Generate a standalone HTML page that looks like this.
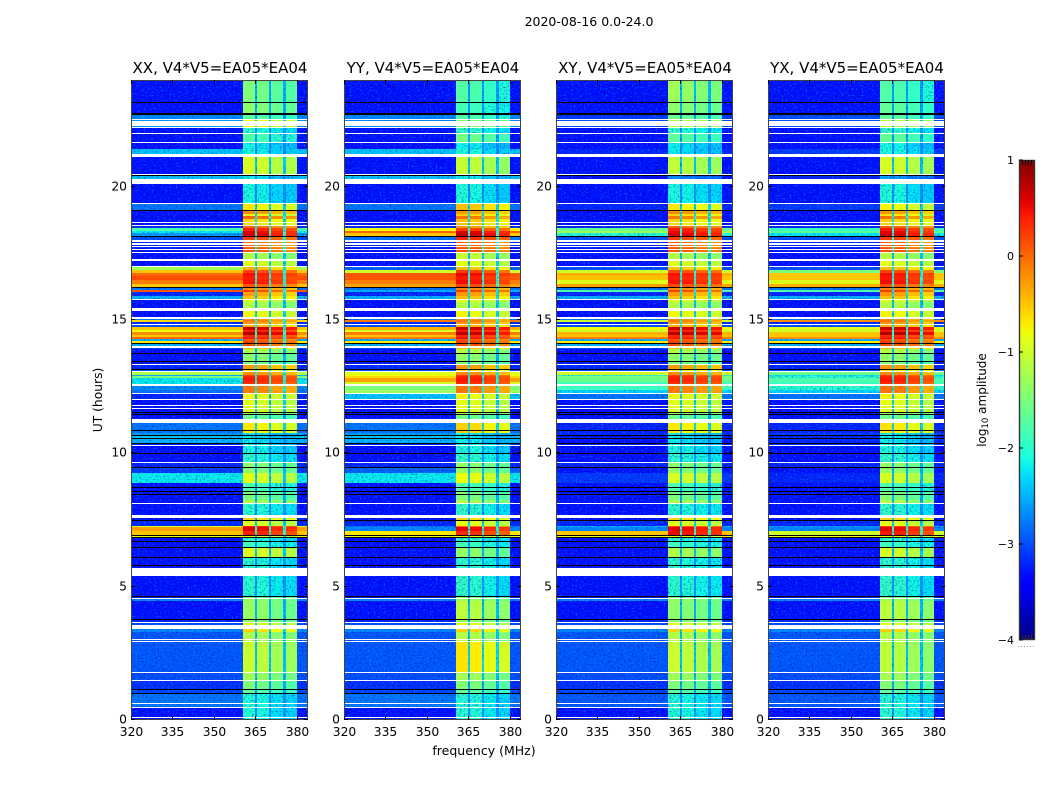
<!DOCTYPE html>
<html>
<head>
<meta charset="utf-8">
<title>2020-08-16 0.0-24.0</title>
<style>
html,body{margin:0;padding:0;background:#fff;}
svg{display:block;}
text{font-family:"DejaVu Sans","Liberation Sans",sans-serif;fill:#000;}
</style>
</head>
<body>
<svg id="figure" xmlns="http://www.w3.org/2000/svg" width="1050" height="800" viewBox="0 0 1050 800">
<defs>
<filter id="grain-dark" color-interpolation-filters="sRGB" x="0" y="0" width="100%" height="100%"><feTurbulence type="fractalNoise" baseFrequency="0.5 0.62" numOctaves="1" seed="3"/><feColorMatrix type="matrix" values="0 0 0 0 0  0 0 0 0 0  0 0 0 0 0.5  4 0 0 0 -2.1"/></filter>
<filter id="grain-light" color-interpolation-filters="sRGB" x="0" y="0" width="100%" height="100%"><feTurbulence type="fractalNoise" baseFrequency="0.5 0.62" numOctaves="1" seed="11"/><feColorMatrix type="matrix" values="0 0 0 0 0  0 0 0 0 0.6  0 0 0 0 1  4 0 0 0 -2.2"/></filter>
<linearGradient id="jet-gradient" x1="0" y1="1" x2="0" y2="0"></linearGradient>
</defs>
<text x="589" y="26" text-anchor="middle" font-size="12.5">2020-08-16 0.0-24.0</text>
<text x="484" y="755" text-anchor="middle" font-size="12.5">frequency (MHz)</text>
<text transform="translate(102,400) rotate(-90)" text-anchor="middle" font-size="12.3">UT (hours)</text>
<text transform="translate(986,400) rotate(-90)" text-anchor="middle" font-size="12">log<tspan font-size="8.5" dy="2">10</tspan><tspan dy="-2"> amplitude</tspan></text>
<g id="panels"></g>
<g id="colorbar"></g>
</svg>
<script>
// --- chart data -----------------------------------------------------------
const panelNames = ["XX", "YY", "XY", "YX"];
const baselineLabel = "V4*V5=EA05*EA04";
const freqTicks = [320, 335, 350, 365, 380];
const hourTicks = [0, 5, 10, 15, 20];
const colorbarTicks = [1, 0, -1, -2, -3, -4];
const freqLimits = [320, 384.1];
const hourLimits = [0, 24];
const levelLimits = [-4, 1];
const subbandsMHz = [[360.7, 364.9], [365.8, 370.1], [370.8, 375.2], [376, 380]];

// UT hour at the top edge of each block of integrations
const rowTopHours = [24,23.14,22.69,22.51,22.2,21.98,21.64,21.4,21.11,20.39,
20.1,19.35,19.09,18.98,18.9,18.79,18.53,18.44,18.33,18.25,
18.12,17.93,17.7,17.51,17.21,16.99,16.88,16.75,16.65,16.5,
16.34,16.2,16.14,16.04,15.91,15.75,15.66,15.34,15.05,15.01,
14.94,14.84,14.75,14.63,14.56,14.44,14.37,14.29,14.21,14.09,
13.96,13.91,13.74,13.43,13.3,13.13,13.04,12.95,12.9,12.81,
12.69,12.53,12.38,12.21,11.99,11.66,11.52,11.45,11.13,10.75,
10.68,10.55,10.38,10.29,9.98,9.64,9.45,9.26,8.9,8.55,
8.25,8.1,7.56,7.47,7.28,7.23,7.1,6.91,6.85,6.68,
6.45,6.08,5.4,4.61,4.54,4.45,3.75,3.63,3.4,3.3,
2.91,1.75,1.46,1.13,0.98,0.46];

// log10 amplitude outside the 360-380 MHz band
const xxBackground = [-3.3,-3.3,-2.7,-2.6,-3.3,-3.3,-3.3,-2.4,-3.3,-2.4,
-3.3,-2.8,-3.3,-3.3,-3.3,-3.3,-3.2,-1.8,-2.2,-2.6,
-3,-3.2,-3.3,-3.3,-3.3,-1.3,-.5,0,.15,-.1,
-.5,-2.8,.1,-3.2,-2.5,-3.3,-3.3,-3.3,-2.8,-.6,
-3.2,-3,-.5,-.8,-.2,-.5,0,-2.5,-.7,-2.5,
-3,-3.3,-3.3,-3.3,-3.2,-3,-1.2,-2.5,-1.5,-2.2,
-2.2,-2.7,-2.8,-3.2,-3.3,-3.3,-3.3,-3.3,-2.8,-2.6,
-2.4,-2.5,-3.2,-3.3,-3.3,-3.2,-3.1,-2.2,-3.3,-3.3,
-3.3,-3.3,-3.3,-3.2,-1,-.3,-.5,-.9,-3.3,-3.3,
-3.3,-3.3,-3.3,-3.3,-2.7,-3.3,-3.2,-3,-2.7,-2.95,
-2.95,-3,-3.15,-3.05,-2.8,-3.3];
const yyBackground = [-3.3,-3.3,-2.7,-2.7,-3.3,-3.3,-3.3,-2.4,-3.3,-2.4,
-3.3,-2.8,-3.3,-3.3,-3.3,-3.3,-3.2,-.8,0,-.5,
-2.8,-3.2,-3.3,-3.3,-3.3,-2.9,-1,.1,.1,-.1,
-.3,-2.8,-2.5,-3.2,-2.5,-3.3,-3.3,-3.3,-2.8,-.1,
-3.2,-3,-.4,-.9,-.1,-.5,-.1,-2.5,-.7,-2.5,
-3,-3.3,-3.3,-3.3,-3.2,-3,-.9,-.8,-.6,-.3,
-1,-1.5,-1.3,-2.4,-3.3,-3.3,-3.3,-3.3,-2.8,-2.6,
-2.4,-2.5,-3.2,-3.3,-3.3,-3.2,-2.9,-2.2,-3.3,-3.3,
-3.3,-3.3,-3.3,-3.2,-2.8,-2.7,-.7,-.9,-3.3,-3.3,
-3.3,-3.3,-3.3,-3.3,-2.7,-3.3,-3.2,-3,-2.7,-2.95,
-2.95,-3,-3.15,-3.05,-2.8,-3.3];
const xyBackground = [-3.3,-3.3,-3.1,-3,-3.3,-3.3,-3.3,-3.2,-3.3,-3.3,
-3.3,-3.2,-3.3,-3.3,-3.3,-3.3,-3.2,-1.6,-1.3,-2,
-3,-3.2,-3.3,-3.3,-3.3,-3,-1,-.4,-.5,-.9,
-.3,-2.8,-1.8,-3.2,-2.5,-3.3,-3.3,-3.3,-2.8,-1,
-3.2,-3,-.8,-1,-.4,-.5,-.1,-2.5,-.7,-2.5,
-3,-3.3,-3.3,-3.3,-3.2,-3,-1,-2,-1.5,-1.6,
-1.9,-1.9,-2.3,-2.8,-3.3,-3.3,-3.3,-3.3,-3.2,-3.2,
-3.3,-3.3,-3.2,-3.3,-3.3,-3.2,-3.3,-3.1,-3.3,-3.3,
-3.3,-3.3,-3.3,-3.2,-2.5,-2.7,-.5,-.9,-3.3,-3.3,
-3.3,-3.3,-3.3,-3.3,-2.7,-3.3,-3.2,-3,-2.7,-2.95,
-2.95,-3,-3.15,-3.05,-2.95,-3.3];
const yxBackground = [-3.3,-3.3,-3,-3,-3.3,-3.3,-3.3,-3.1,-3.3,-3.2,
-3.3,-3.1,-3.3,-3.3,-3.3,-3.3,-3.2,-1.9,-1.7,-2.2,
-3,-3.2,-3.3,-3.3,-3.3,-3,-1.5,-.5,-.5,-.9,
-.4,-2.8,-1.8,-3.2,-2.5,-3.3,-3.3,-3.3,-2.8,-.2,
-3.2,-3,-.9,-1,-.5,-.5,-.2,-2.5,-.7,-2.5,
-3,-3.3,-3.3,-3.3,-3.2,-3,-1.6,-2.2,-2,-1.8,
-1.9,-2,-2.3,-2.8,-3.3,-3.3,-3.3,-3.3,-3.2,-3.1,
-3.2,-3.2,-3.2,-3.3,-3.3,-3.2,-3.3,-3.2,-3.3,-3.3,
-3.3,-3.3,-3.3,-3.2,-2.6,-2.7,-1,-.9,-3.3,-3.3,
-3.3,-3.3,-3.3,-3.3,-2.7,-3.3,-3.2,-3,-2.7,-2.95,
-2.95,-3,-3.15,-3.05,-2.95,-3.3];

// log10 amplitude inside the 360-380 MHz band
const xxBand = [-1.6,-1.5,-1.8,-.9,-2.1,-1.9,-2.25,-2.2,-1.05,-2.3,
-2.2,-.8,-.3,-.9,-.1,-.7,-.1,.3,.45,.5,
.1,-.1,0,-1.3,-1,-.5,.1,.35,.3,.35,
0,-.3,.1,-.4,-.6,-1,-1.3,-.9,-.3,-.2,
-.4,-.5,.55,.3,.65,.2,.3,0,.1,0,
-.6,-1.3,-1.5,-1.6,-.4,-.8,-.3,.1,.25,.3,
.2,-.2,-.2,-.9,-1,-1,-1.3,-1.7,-.8,-2.3,
-2.3,-2.3,-2.2,-2.2,-2.1,-1.5,-1.5,-1,-1.9,-1.6,
-1.3,-2.1,-.7,-1,.3,.45,.3,-.9,-2.1,-2,
-1,-2.1,-2.1,-1.6,-1.4,-1.45,-1.5,-1,-.7,-1.3,
-1.15,-1.4,-1.6,-1.8,-2.15,-2.15];
const yyBand = [-1.9,-2,-1.9,-1.5,-2.1,-1.7,-2.3,-2.2,-1.2,-2.3,
-2.2,-.6,-.4,-.7,-.2,-.6,-.4,.1,.45,.55,
.2,-.1,0,-1.2,-1,-.6,.1,.4,.3,.35,
.05,-.3,.1,-.4,-.6,-1,-1.3,-.9,-.3,-.2,
-.4,-.5,.55,.3,.6,.2,.3,0,.1,0,
-.6,-1.3,-1.5,-1.6,-.4,-.8,-.3,.1,.25,.3,
.2,-.2,-.2,-.9,-1,-1,-1.3,-1.7,-.7,-2.3,
-2.3,-2.3,-2.2,-2.2,-2.1,-1.5,-1.5,-.95,-1.9,-1.6,
-1.3,-2.1,-.7,-1,-.1,.4,.2,-.9,-2.1,-2,
-1.5,-2.1,-2.1,-1.6,-1.4,-1.25,-1.5,-1,-.7,-1.3,
-.8,-1.4,-1.6,-1.8,-2.15,-2.15];
const xyBand = [-1.4,-1.5,-1.7,-1.2,-2.1,-1.8,-2.3,-2.3,-1.2,-2.8,
-2.2,-.8,-.3,-.7,-.2,-.7,-.1,.3,.4,.5,
.1,-.1,0,-1.3,-1,-.6,.05,.35,.3,.35,
.05,-.3,.1,-.4,-.6,-1,-1.3,-.9,-.3,-.2,
-.4,-.5,.55,.3,.65,.2,.3,0,.1,0,
-.6,-1.3,-1.5,-1.6,-.4,-.8,-.3,.1,.25,.3,
.2,-.2,-.2,-.9,-1,-1,-1.3,-1.7,-.8,-2.3,
-2.3,-2.3,-2.2,-2.2,-2.1,-1.5,-1.5,-1.05,-1.9,-1.6,
-1.3,-2.1,-.7,-1,.1,.45,.4,-.9,-2.1,-2,
-1.3,-2.1,-2.1,-1.6,-1.4,-1.5,-1.5,-1,-.7,-1.3,
-1.15,-1.4,-1.6,-1.8,-2.15,-2.15];
const yxBand = [-1.9,-1.8,-1.8,-1.2,-2.1,-1.8,-2.25,-2.2,-1.1,-2.7,
-2.2,-.9,-.4,-.8,-.2,-.7,-.1,.3,.4,.5,
.1,-.1,0,-1.3,-1,-.6,.05,.35,.3,.35,
0,-.3,.1,-.4,-.6,-1,-1.3,-.9,-.3,-.2,
-.4,-.5,.55,.3,.65,.2,.3,0,.1,0,
-.6,-1.3,-1.5,-1.6,-.4,-.8,-.3,.1,.25,.3,
.2,-.2,-.2,-.9,-1,-1,-1.3,-1.7,-.8,-2.3,
-2.3,-2.3,-2.2,-2.2,-2.1,-1.5,-1.5,-1.1,-1.9,-1.6,
-1.3,-2.1,-.7,-1,.1,.4,.3,-.9,-2.1,-2,
-1.1,-2.1,-2.1,-1.6,-1.4,-1.25,-1.5,-1,-.7,-1.3,
-1.25,-1.4,-1.6,-1.8,-2.15,-2.15];

// per-subband offsets in log10 amplitude
const xxSubbandOffset = [.12, .05, -.1, -.15];
const yySubbandOffset = [.15, .1, -.05, -.15];
const xySubbandOffset = [.12, .05, -.05, -.1];
const yxSubbandOffset = [.15, .1, -.05, -.15];

// flagged time ranges [top hour, bottom hour]
const blankedHours = [[22.55,22.51],[22.46,22.28],[22.25,22.2],[22.02,21.98],[21.66,21.63],[21.22,21.11],[20.47,20.43],[20.28,20.09],[19.38,19.35],[18.66,18.63],[18.57,18.53],[18,17.93],[17.89,17.83],[17.79,17.76],[17.66,17.63],[17.55,17.51],[17.29,17.21],[17.03,16.99],[15.8,15.75],[15.44,15.39],[15.38,15.34],[15.1,15.05],[14.86,14.84],[14.01,13.96],[13.35,13.3],[13.08,13.04],[12.6,12.53],[12.25,12.21],[12.03,11.99],[11.8,11.76],[11.7,11.66],[11.29,11.13],[10.31,10.29],[9.68,9.64],[8.14,8.1],[7.68,7.56],[5.69,5.4],[4.58,4.54],[3.66,3.63],[3.56,3.4],[3.04,3],[2.95,2.91],[1.79,1.75],[1.5,1.46],[.65,.61],[.5,.46],[.12,.08]];
const zeroedHours = [[23.18,23.14],[22.76,22.69],[20.43,20.39],[19.14,19.09],[18.15,18.12],[16.23,16.2],[14.13,14.09],[13.76,13.74],[13.45,13.43],[13.15,13.13],[11.56,11.52],[11.48,11.45],[10.88,10.85],[10.7,10.68],[10.58,10.55],[10.39,10.37],[10,9.98],[9.47,9.45],[8.73,8.7],[8.58,8.55],[8.49,8.48],[7.5,7.47],[6.95,6.91],[6.87,6.85],[6.7,6.68],[6.48,6.45],[6.1,6.08],[5.8,5.78],[4.65,4.61],[3.78,3.75],[1.15,1.13],[1.02,.98]];

const backgroundByPanel = { XX: xxBackground, YY: yyBackground, XY: xyBackground, YX: yxBackground };
const bandByPanel = { XX: xxBand, YY: yyBand, XY: xyBand, YX: yxBand };
const offsetByPanel = { XX: xxSubbandOffset, YY: yySubbandOffset, XY: xySubbandOffset, YX: yxSubbandOffset };

// --- layout ---------------------------------------------------------------
const panelLeft = { XX: 131, YY: 344, XY: 556, YX: 768 };
const panelWidth = 177;
const plotTop = 80;
const plotBottom = 720;
const barLeft = 1019;
const barWidth = 16;
const barTop = 160;
const barBottom = 640;

const NS = "http://www.w3.org/2000/svg";
function make(tag, attrs, parent) {
  const el = document.createElementNS(NS, tag);
  for (const k in attrs) el.setAttribute(k, attrs[k]);
  if (parent) parent.appendChild(el);
  return el;
}
function scaleX(panel, mhz) {
  return panelLeft[panel] + (mhz - freqLimits[0]) / (freqLimits[1] - freqLimits[0]) * panelWidth;
}
function scaleY(hour) {
  return plotBottom - (hour - hourLimits[0]) / (hourLimits[1] - hourLimits[0]) * (plotBottom - plotTop);
}
function scaleBar(level) {
  return barBottom - (level - levelLimits[0]) / (levelLimits[1] - levelLimits[0]) * (barBottom - barTop);
}
function lerpStops(stops, t) {
  for (let i = 1; i < stops.length; i++) {
    if (t <= stops[i][0]) {
      const a = stops[i - 1], b = stops[i];
      return a[1] + (b[1] - a[1]) * (t - a[0]) / (b[0] - a[0]);
    }
  }
  return stops[stops.length - 1][1];
}
const jetRed = [[0,0],[.35,0],[.66,1],[.89,1],[1,.5]];
const jetGreen = [[0,0],[.125,0],[.375,1],[.64,1],[.91,0],[1,0]];
const jetBlue = [[0,.5],[.11,1],[.34,1],[.65,0],[1,0]];
function jet(level) {
  const t = Math.max(0, Math.min(1, (level - levelLimits[0]) / (levelLimits[1] - levelLimits[0])));
  const c = s => Math.round(255 * lerpStops(s, t));
  return "rgb(" + c(jetRed) + "," + c(jetGreen) + "," + c(jetBlue) + ")";
}

const panelsGroup = document.getElementById("panels");
const defs = document.querySelector("defs");

panelNames.forEach(function (panel) {
  const g = make("g", {}, panelsGroup);
  
  
  const left = panelLeft[panel];
  const heat = make("g", { "shape-rendering": "crispEdges" }, g);
  
  
  const clip = make("clipPath", { id: "grain-clip-" + panel }, defs);
  const bgLevels = backgroundByPanel[panel];
  const bandLevels = bandByPanel[panel];
  const offsets = offsetByPanel[panel];

  function cell(m0, m1, top, bottom, level, name) {
    const x0 = Math.round(scaleX(panel, m0)), x1 = Math.round(scaleX(panel, m1));
    const y0 = Math.round(scaleY(top)), y1 = Math.round(scaleY(bottom));
    if (x1 <= x0 || y1 <= y0) return;
    const r = make("rect", { x: x0, y: y0, width: x1 - x0, height: y1 - y0, fill: jet(level) }, heat);
    
    
    const grainLimit = -1.95;
    if (level < grainLimit) {
      make("rect", { x: x0, y: y0, width: x1 - x0, height: y1 - y0 }, clip);
    }
  }

  rowTopHours.forEach(function (top, i) {
    const bottom = i + 1 < rowTopHours.length ? rowTopHours[i + 1] : hourLimits[0];
    const bg = bgLevels[i], band = bandLevels[i];
    const gapLevel = -2.6 + 0.25 * (band + 2);
    cell(freqLimits[0], subbandsMHz[0][0], top, bottom, bg, 'cell-background');
    subbandsMHz.forEach(function (sb, k) {
      cell(sb[0], sb[1], top, bottom, band + offsets[k], 'cell-subband-' + (k + 1));
      if (k < subbandsMHz.length - 1) {
        cell(sb[1], subbandsMHz[k + 1][0], top, bottom, gapLevel, 'cell-subband-gap');
      }
    });
    cell(subbandsMHz[3][1], freqLimits[1], top, bottom, bg, 'cell-background');
  });

  const plotW = Math.round(scaleX(panel, freqLimits[1])) - left;
  const dark = make("rect", { x: left, y: plotTop, width: plotW, height: plotBottom - plotTop, filter: "url(#grain-dark)", "clip-path": "url(#grain-clip-" + panel + ")", opacity: 0.45 }, g);
  
  
  const light = make("rect", { x: left, y: plotTop, width: plotW, height: plotBottom - plotTop, filter: "url(#grain-light)", "clip-path": "url(#grain-clip-" + panel + ")", opacity: 0.6 }, g);
  
  

  const flags = make("g", { "shape-rendering": "crispEdges" }, g);
  
  
  blankedHours.forEach(function (pair) {
    const y0 = Math.round(scaleY(pair[0])), y1 = Math.round(scaleY(pair[1]));
    const r = make("rect", { x: left, y: y0, width: plotW, height: Math.max(1, y1 - y0), fill: "#fff" }, flags);
    
    
  });
  zeroedHours.forEach(function (pair) {
    const y0 = Math.round(scaleY(pair[0])), y1 = Math.round(scaleY(pair[1]));
    const r = make("rect", { x: left, y: y0, width: plotW, height: Math.max(1, y1 - y0), fill: "#000" }, flags);
    
    
  });

  const frame = make("rect", { x: left + 0.5, y: plotTop + 0.5, width: plotW - 1, height: plotBottom - plotTop - 1, fill: "none", stroke: "#444", "stroke-width": 1 }, g);
  
  

  const title = make("text", { x: left + plotW / 2 + 0.5, y: 73, "text-anchor": "middle", "font-size": 15 }, g);
  
  
  title.textContent = panel + ", " + baselineLabel;

  freqTicks.forEach(function (f) {
    const x = Math.round(scaleX(panel, f)) + 0.5;
    const t1 = make("line", { x1: x, x2: x, y1: plotBottom, y2: plotBottom - 4, stroke: "#000" }, g);
    
    
    const t2 = make("line", { x1: x, x2: x, y1: plotTop, y2: plotTop + 4, stroke: "#000" }, g);
    
    
    const lab = make("text", { x: x, y: 736, "text-anchor": "middle", "font-size": 12.3 }, g);
    
    
    lab.textContent = f;
  });
  hourTicks.forEach(function (h) {
    const y = Math.round(scaleY(h)) - 0.5;
    const t1 = make("line", { x1: left, x2: left + 4, y1: y, y2: y, stroke: "#000" }, g);
    
    
    const t2 = make("line", { x1: left + plotW, x2: left + plotW - 4, y1: y, y2: y, stroke: "#000" }, g);
    
    
    const lab = make("text", { x: left - 4, y: y + 4, "text-anchor": "end", "font-size": 12.3 }, g);
    
    
    lab.textContent = h;
  });
});

// --- colourbar ------------------------------------------------------------
const grad = document.getElementById("jet-gradient");
for (let i = 0; i <= 50; i++) {
  const s = make("stop", { offset: (i * 2) + "%", "stop-color": jet(levelLimits[0] + i / 50 * (levelLimits[1] - levelLimits[0])) }, grad);
}
const cb = document.getElementById("colorbar");
const cbFill = make("rect", { x: barLeft, y: barTop, width: barWidth, height: barBottom - barTop, fill: "url(#jet-gradient)" }, cb);


const cbFrame = make("rect", { x: barLeft + 0.5, y: barTop + 0.5, width: barWidth - 1, height: barBottom - barTop - 1, fill: "none", stroke: "#333", "stroke-width": 1.4 }, cb);


[3, 6, 9, 12].forEach(function (dx) {
  make("line", { x1: barLeft + dx + 0.5, x2: barLeft + dx + 0.5, y1: barTop, y2: barTop + 5, stroke: "#000" }, cb);
  make("line", { x1: barLeft + dx + 0.5, x2: barLeft + dx + 0.5, y1: barBottom, y2: barBottom - 5, stroke: "#333" }, cb);
});
colorbarTicks.forEach(function (v) {
  const y = scaleBar(v);
  const lab = make("text", { x: 1014, y: y + 4, "text-anchor": "end", "font-size": 11 }, cb);
  
  
  lab.textContent = v < 0 ? "\u2212" + Math.abs(v) : String(v);
  const tk = make("line", { x1: barLeft, x2: barLeft + 4, y1: y, y2: y, stroke: "#000" }, cb);
  
  
});
const dots = make("line", { x1: 1018, x2: 1035, y1: 646.5, y2: 646.5, stroke: "#999", "stroke-dasharray": "1 2" }, cb);


</script>
</body>
</html>
